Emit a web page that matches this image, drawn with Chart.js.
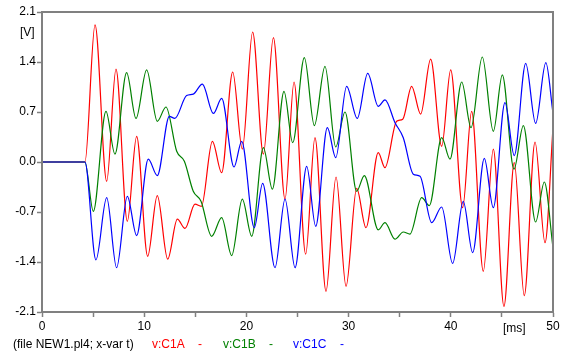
<!DOCTYPE html>
<html>
<head>
<meta charset="utf-8">
<script src="https://cdn.jsdelivr.net/npm/chart.js@4/dist/chart.umd.min.js"></script>
<style>
  html, body { margin: 0; padding: 0; background: #fff; }
  #wrap { width: 567px; height: 359px; }
</style>
</head>
<body>
<div id="wrap"><canvas id="plot" width="567" height="359"></canvas></div>
<script>
/* global Chart */

// v:C1A (red)
const tA = [0, 4.2, 5.19, 6.33, 7.24, 8.35, 9.26, 10.34, 11.28, 12.3, 13.24, 13.99, 14.97, 15.6, 16.67,
    17.58, 18.66, 19.6, 20.61, 21.66, 22.64, 23.78, 24.66, 25.8, 26.71, 27.79, 28.77, 29.75, 30.79, 31.7,
    32.9, 33.56, 34.7, 35.3, 36.17, 37.05, 38.03, 39.11, 39.99, 41.16, 42.04, 43.18, 44.16, 45.2, 46.21,
    47.19, 48.24, 49.22, 50];
const vA = [0, 0, 1.92, -0.27, 1.30, -0.83, 0.36, -1.32, -0.47, -1.36, -0.80, -0.93, -0.59, -0.62, 0.29,
    -0.15, 1.26, 0.18, 1.82, 0.11, 1.74, -0.52, 1.12, -1.29, 0.34, -1.81, -0.21, -1.74, -0.37, -0.92,
    0.13, -0.08, 0.57, 0.60, 1.06, 0.67, 1.44, 0.22, 1.29, -0.64, 0.71, -1.53, 0.18, -2.02, -0.01,
    -1.87, 0.28, -1.13, 0.48];

// v:C1B (green)
const tB = [0, 4.2, 5.02, 6.26, 7.14, 8.28, 9.2, 10.24, 11.28, 12.13, 13.18, 13.93, 14.8, 15.56, 16.6,
    17.58, 18.56, 19.6, 20.52, 21.66, 22.54, 23.68, 24.53, 25.67, 26.65, 27.69, 28.74, 29.65, 30.79, 31.54,
    32.9, 33.56, 34.54, 35.35, 36.0, 37.15, 37.9, 39.11, 39.92, 41.07, 41.98, 43.08, 44.16, 45.04, 46.18,
    47.1, 48.3, 49.15, 50];
const vB = [0, 0, -0.69, 0.71, 0.11, 1.25, 0.61, 1.29, 0.57, 0.77, 0.15, 0.01, -0.41, -0.55, -1.04,
    -0.78, -1.31, -0.52, -1.04, 0.20, -0.38, 0.99, 0.27, 1.46, 0.51, 1.34, 0.21, 0.70, -0.41, -0.19,
    -0.95, -0.85, -1.08, -0.98, -1.01, -0.50, -0.61, 0.34, 0.04, 1.12, 0.48, 1.47, 0.43, 1.22, -0.10,
    0.51, -0.84, -0.28, -1.2];

// v:C1C (blue)
const tC = [0, 4.2, 5.28, 6.33, 7.3, 8.35, 9.26, 10.4, 11.28, 12.46, 13.0, 14.15, 14.8, 15.69, 16.77,
    17.58, 18.79, 19.54, 20.77, 21.59, 22.8, 23.78, 24.76, 25.9, 26.78, 27.92, 28.74, 29.81, 30.85, 31.87,
    32.9, 33.56, 34.54, 35.35, 36.33, 36.99, 38.13, 39.11, 40.18, 41.22, 42.14, 43.28, 44.16, 45.3, 46.21,
    47.33, 48.3, 49.3, 50];
const vC = [0, 0, -1.37, -0.50, -1.48, -0.48, -1.03, 0.04, -0.19, 0.64, 0.61, 0.93, 0.95, 1.09, 0.68,
    0.89, -0.07, 0.29, -0.92, -0.30, -1.48, -0.52, -1.48, -0.06, -0.90, 0.48, 0.06, 1.06, 0.61, 1.24,
    0.78, 0.87, 0.55, 0.34, -0.17, -0.20, -0.85, -0.63, -1.42, -0.55, -1.27, 0.05, -0.64, 0.83, 0.09,
    1.38, 0.54, 1.39, 0.68];

const yTicks = [-2.1, -1.4, -0.7, 0.0, 0.7, 1.4, 2.1];
const xTicks = [0, 5, 10, 15, 20, 25, 30, 35, 40, 45, 50];

const FONT = 'Liberation Sans, Arial, sans-serif';
const AXIS = '#808080';

function pts(t, v) {
    return t.map((x, i) => ({x: x, y: v[i]}));
}

function series(label, t, v, color, order) {
    return {
        label: label,
        data: pts(t, v),
        borderColor: color,
        borderWidth: 1.2,
        pointRadius: 0,
        fill: false,
        cubicInterpolationMode: 'monotone',
        order: order,
    };
}

// frame on top/right plus the unit labels and the file line underneath
const extras = {
    id: 'extras',
    afterDraw(chart) {
        const ctx = chart.ctx;
        const a = chart.chartArea;
        ctx.save();
        ctx.strokeStyle = AXIS;
        ctx.lineWidth = 2;
        ctx.strokeRect(a.left, a.top, a.right - a.left, a.bottom - a.top);

        ctx.font = '12px ' + FONT;
        ctx.textBaseline = 'middle';
        ctx.textAlign = 'left';
        ctx.fillStyle = '#000';
        ctx.fillText('[V]', 20, 33);
        ctx.fillText('[ms]', 503, 329);

        const row = 345;
        ctx.fillText('(file NEW1.pl4; x-var t)', 13, row);
        ctx.fillStyle = '#ff0000';
        ctx.fillText('v:C1A', 152, row);
        ctx.fillText('-', 198, row);
        ctx.fillStyle = '#008000';
        ctx.fillText('v:C1B', 223, row);
        ctx.fillText('-', 269, row);
        ctx.fillStyle = '#0000ff';
        ctx.fillText('v:C1C', 293, row);
        ctx.fillText('-', 340, row);
        ctx.restore();
    }
};

const myChart = new Chart(document.getElementById('plot'), {
    type: 'line',
    data: {
        datasets: [
            series('v:C1A', tA, vA, '#ff0000', 3),
            series('v:C1B', tB, vB, '#008000', 2),
            series('v:C1C', tC, vC, '#0000ff', 1),
        ]
    },
    options: {
        responsive: false,
        animation: false,
        events: [],
        layout: {padding: {top: 12, right: 14, bottom: 0, left: 0}},
        plugins: {
            legend: {display: false},
            tooltip: {enabled: false},
        },
        scales: {
            x: {
                type: 'linear',
                min: 0,
                max: 50,
                afterBuildTicks: (s) => { s.ticks = xTicks.map(v => ({value: v})); },
                afterFit: (s) => { s.height = 47; },
                grid: {drawOnChartArea: false, tickLength: 5, tickColor: AXIS, tickWidth: 1.5},
                border: {color: AXIS, width: 2},
                ticks: {
                    autoSkip: false,
                    maxRotation: 0,
                    padding: 2,
                    color: '#000',
                    font: {family: FONT, size: 12},
                    callback: (v) => (v % 10 === 0 ? String(v) : ''),
                },
            },
            y: {
                type: 'linear',
                min: -2.1,
                max: 2.1,
                afterBuildTicks: (s) => { s.ticks = yTicks.map(v => ({value: v})); },
                afterFit: (s) => { s.width = 42; },
                grid: {drawOnChartArea: false, tickLength: 5, tickColor: AXIS, tickWidth: 1.5},
                border: {color: AXIS, width: 2},
                ticks: {
                    padding: 1,
                    color: '#000',
                    font: {family: FONT, size: 12},
                    callback: (v) => Number(v).toFixed(1),
                },
            },
        },
    },
    plugins: [extras],
});
</script>
</body>
</html>
